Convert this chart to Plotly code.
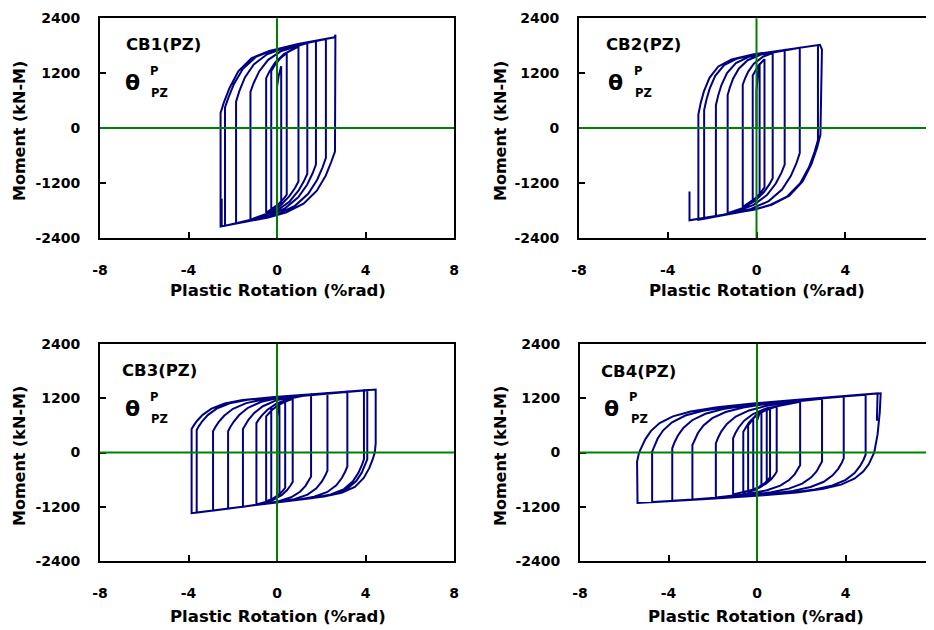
import plotly.graph_objects as go

# ---------------- data (plastic rotation %rad, moment kN-m) ----------------
cb1_rot = [0, 0, 0.08, 0.19,
           0.19, 0.04, -0.26,
           -0.26, -0.11, 0.14, 0.44,
           0.44, 0.29, 0.04, -0.49,
           -0.49, -0.34, -0.09, 0.31, 0.97,
           0.97, 0.82, 0.57, 0.17, -0.43, -1.20,
           -1.20, -1.05, -0.80, -0.40, 0.20, 1.37,
           1.37, 1.22, 0.97, 0.57, -0.03, -0.83, -1.85,
           -1.85, -1.70, -1.45, -1.05, -0.45, 0.35, 1.76,
           1.76, 1.61, 1.36, 0.96, 0.36, -0.44, -2.35,
           -2.35, -2.20, -1.95, -1.55, -0.95, -0.15, 2.21,
           2.21, 2.06, 1.81, 1.41, 0.81, 0.01, -0.79, -2.55,
           -2.55, -2.40, -2.15, -1.75, -1.15, -0.35, 0.95, 2.60, 2.64,
           2.62, 2.45, 2.20, 1.80, 1.20, 0.40, -0.40, -2.50, -2.50]
cb1_mom = [0, 900, 1150, 1350,
           -1680, -1737, -1829,
           1250, 1368, 1520, 1642,
           -1460, -1553, -1676, -1853,
           1090, 1239, 1428, 1618, 1783,
           -1170, -1306, -1486, -1687, -1870, -2004,
           790, 990, 1243, 1492, 1685, 1861,
           -1000, -1161, -1372, -1607, -1816, -1968, -2085,
           575, 811, 1106, 1393, 1612, 1756, 1908,
           -800, -991, -1241, -1516, -1758, -1927, -2138,
           450, 660, 960, 1290, 1558, 1708, 1949,
           -650, -861, -1137, -1439, -1703, -1885, -1991, -2154,
           330, 560, 870, 1240, 1531, 1687, 1836, 1984, 2040,
           -515, -744, -1044, -1372, -1655, -1848, -1957, -2150, -1550]

cb2_rot = [0, 0, 0.06, 0.14,
           0.14, -0.01, -0.17,
           -0.17, -0.07, 0.08, 0.36,
           0.36, 0.21, -0.04, -0.62,
           -0.62, -0.52, -0.37, -0.12, 0.28, 0.73,
           0.73, 0.58, 0.33, -0.07, -0.67, -1.30,
           -1.30, -1.20, -1.05, -0.80, -0.40, 0.20, 1.27,
           1.27, 1.12, 0.87, 0.47, -0.13, -0.93, -1.83,
           -1.83, -1.73, -1.58, -1.33, -0.93, -0.33, 1.95,
           1.95, 1.80, 1.55, 1.15, 0.55, -0.25, -1.05, -2.36,
           -2.36, -2.26, -2.11, -1.86, -1.46, -0.86, 0.14, 2.77,
           2.77, 2.62, 2.37, 1.97, 1.37, 0.57, -0.23, -2.62,
           -2.62, -2.52, -2.37, -2.12, -1.72, -1.12, -0.12, 2.86, 2.95, 2.92, 2.88,
           2.73, 2.48, 2.08, 1.48, 0.68, -0.12, -3.02, -3.02]
cb2_mom = [0, 800, 1200, 1400,
           -1500, -1566, -1626,
           1150, 1249, 1363, 1504,
           -1300, -1401, -1533, -1729,
           950, 1082, 1234, 1406, 1555, 1640,
           -1100, -1233, -1406, -1595, -1762, -1866,
           720, 889, 1083, 1298, 1483, 1605, 1709,
           -800, -981, -1215, -1467, -1682, -1832, -1933,
           500, 705, 940, 1201, 1421, 1561, 1757,
           -550, -768, -1048, -1348, -1600, -1769, -1866, -1989,
           393, 612, 862, 1141, 1375, 1522, 1630, 1814,
           -262, -521, -855, -1209, -1502, -1692, -1797, -2010,
           300, 534, 801, 1098, 1347, 1501, 1612, 1820, 1720, 500, -150,
           -429, -787, -1167, -1479, -1679, -1787, -2020, -1390]

cb3_rot = [0, 0, 0.05, 0.11,
           0.11, 0.01, -0.26,
           -0.26, -0.16, -0.01, 0.37,
           0.37, 0.27, 0.12, -0.13, -0.49,
           -0.49, -0.39, -0.24, 0.01, 0.41, 0.71,
           0.71, 0.61, 0.46, 0.21, -0.19, -0.93,
           -0.93, -0.83, -0.68, -0.43, -0.03, 0.57, 1.54,
           1.54, 1.44, 1.29, 1.04, 0.64, 0.04, -1.54,
           -1.54, -1.44, -1.29, -1.04, -0.64, -0.04, 0.76, 2.28,
           2.28, 2.18, 2.03, 1.78, 1.38, 0.78, -0.02, -2.21,
           -2.21, -2.11, -1.96, -1.71, -1.31, -0.71, 0.09, 3.18,
           3.18, 3.08, 2.93, 2.68, 2.28, 1.68, 0.88, -2.89,
           -2.89, -2.79, -2.64, -2.39, -1.99, -1.39, -0.59, 3.93,
           3.93, 3.83, 3.68, 3.43, 3.03, 2.43, 1.63, -3.63,
           -3.63, -3.53, -3.38, -3.13, -2.73, -2.13, -1.33, -0.13, 4.46,
           4.46, 4.42, 4.32, 4.17, 3.92, 3.52, 2.92, 2.12, -3.86,
           -3.86, -3.76, -3.61, -3.36, -2.96, -2.36, -1.56, -0.36, 4.08,
           4.08, 3.98, 3.83, 3.58, 3.18, 2.58, 1.78, -3.63]
cb3_mom = [0, 800, 1000, 1080,
           -950, -984, -1053,
           1000, 1034, 1077, 1158,
           -780, -842, -916, -1005, -1084,
           800, 858, 933, 1030, 1135, 1189,
           -650, -731, -829, -944, -1052, -1150,
           650, 727, 822, 947, 1081, 1193, 1289,
           -530, -624, -737, -868, -991, -1084, -1202,
           520, 609, 723, 869, 1024, 1153, 1240, 1315,
           -400, -510, -640, -792, -932, -1034, -1105, -1243,
           470, 562, 679, 829, 989, 1121, 1210, 1346,
           -310, -426, -564, -725, -873, -979, -1051, -1283,
           470, 558, 670, 813, 966, 1093, 1180, 1373,
           -150, -287, -450, -638, -809, -928, -1005, -1328,
           500, 584, 691, 827, 971, 1089, 1166, 1226, 1391,
           200, 0, -159, -347, -564, -760, -893, -975, -1342,
           520, 600, 703, 833, 971, 1084, 1159, 1218, 1378,
           -150, -285, -446, -632, -801, -919, -996, -1328]

cb4_rot = [0, 0, 0.10, 0.20,
           0.20, 0.10, -0.17,
           -0.17, -0.07, 0.08, 0.44,
           0.44, 0.34, 0.19, -0.06, -0.40,
           -0.40, -0.30, -0.15, 0.10, 0.59,
           0.59, 0.49, 0.34, 0.09, -0.62,
           -0.62, -0.52, -0.37, -0.12, 0.28, 0.89,
           0.89, 0.79, 0.64, 0.39, -0.01, -1.08,
           -1.08, -0.98, -0.83, -0.58, -0.18, 0.42, 1.95,
           1.95, 1.85, 1.70, 1.45, 1.05, 0.45, -0.35, -1.86,
           -1.86, -1.76, -1.61, -1.36, -0.96, -0.36, 0.44, 1.64, 2.94,
           2.94, 2.84, 2.69, 2.44, 2.04, 1.44, 0.64, -0.56, -2.92,
           -2.92, -2.82, -2.67, -2.42, -2.02, -1.42, -0.62, 0.58, 2.08, 3.92,
           3.92, 3.82, 3.67, 3.42, 3.02, 2.42, 1.62, 0.42, -1.08, -3.83,
           -3.83, -3.73, -3.58, -3.33, -2.93, -2.33, -1.53, -0.33, 1.17, 2.67, 4.91,
           4.91, 4.81, 4.66, 4.41, 4.01, 3.41, 2.61, 1.41, -0.09, -2.09, -4.74,
           -4.74, -4.64, -4.49, -4.24, -3.84, -3.24, -2.44, -1.24, 0.26, 2.26, 5.59,
           5.55, 5.45, 5.30, 5.20, 5.05, 4.80, 4.40, 3.80, 3.00, 1.80, 0.30, -1.70, -5.40,
           -5.42, -5.33, -5.20, -5.05, -4.80, -4.40, -3.80, -3.00, -1.80, -0.30, 1.70, 5.45, 5.42]
cb4_mom = [0, 700, 850, 920,
           -720, -759, -834,
           756, 811, 874, 975,
           -650, -697, -753, -820, -879,
           600, 674, 761, 863, 983,
           -550, -612, -683, -766, -892,
           460, 553, 660, 787, 911, 1020,
           -425, -502, -592, -697, -800, -931,
           314, 426, 554, 704, 851, 976, 1124,
           -280, -374, -483, -609, -733, -836, -912, -994,
           203, 326, 467, 633, 795, 931, 1032, 1121, 1188,
           -200, -301, -418, -555, -688, -799, -880, -952, -1039,
           166, 289, 431, 597, 759, 896, 996, 1086, 1163, 1237,
           -130, -237, -362, -506, -647, -764, -849, -924, -986, -1070,
           93, 222, 371, 544, 714, 856, 961, 1053, 1131, 1193, 1277,
           -50, -166, -298, -454, -604, -729, -818, -896, -958, -1022, -1097,
           18, 153, 309, 491, 668, 817, 924, 1019, 1100, 1181, 1309,
           900, 400, 0, -121, -261, -423, -580, -710, -803, -883, -947, -1011, -1115,
           -200, 0, 135, 291, 473, 651, 799, 906, 1002, 1081, 1162, 1310, 700]

panel_names = ["CB1(PZ)", "CB2(PZ)", "CB3(PZ)", "CB4(PZ)"]
x_ticks = [-8, -4, 0, 4, 8]
x_tick_text = ["-8", "-4", "0", "4", "8"]
y_ticks = [-2400, -1200, 0, 1200, 2400]
y_tick_text = ["-2400", "-1200", "0", "1200", "2400"]
x_title = "Plastic Rotation (%rad)"
y_title = "Moment (kN-M)"

# ---------------- layout geometry ----------------
# the page body adds an 8 px margin, so the figure is drawn 8 px smaller and all
# positions below (screen pixels) are shifted by that offset
OFF = 8
W, H = 934 - OFF, 630 - OFF
def px(v):
    return (v - OFF) / W
def py(v):
    return 1 - (v - OFF) / H

x_domains = [[px(100), px(454)], [px(579), 1.0], [px(100), px(454)], [px(580), 1.0]]
y_domains = [[py(237.7), py(18.3)], [py(237.7), py(18.3)], [py(561), py(344)], [py(561), py(344)]]

NAVY = "#000080"
GREEN = "#008000"
FONT = "DejaVu Sans"
tick_font = dict(family=FONT, size=14, color="black", weight="bold")

series = [(cb1_rot, cb1_mom), (cb2_rot, cb2_mom), (cb3_rot, cb3_mom), (cb4_rot, cb4_mom)]

fig = go.Figure()
layout_axes = {}
shapes = []
for i, (xs, ys) in enumerate(series):
    n = "" if i == 0 else str(i + 1)
    fig.add_trace(go.Scatter(x=xs, y=ys, mode="lines",
                             line=dict(color=NAVY, width=2),
                             xaxis="x" + n, yaxis="y" + n,
                             showlegend=False, hoverinfo="skip"))
    layout_axes["xaxis" + n] = dict(
        domain=x_domains[i], anchor="y" + n, range=[-8, 8], automargin=False,
        tickmode="array", tickvals=x_ticks, ticktext=x_tick_text,
        ticks="inside", ticklen=6, tickwidth=2, tickcolor="black",
        showline=True, linecolor="black", linewidth=2, mirror=True,
        showgrid=False, zeroline=False, tickfont=tick_font,
        ticklabelstandoff=18, fixedrange=True)
    layout_axes["yaxis" + n] = dict(
        domain=y_domains[i], anchor="x" + n, range=[-2400, 2400], automargin=False,
        tickmode="array", tickvals=y_ticks, ticktext=y_tick_text,
        ticks="inside", ticklen=6, tickwidth=2, tickcolor="black",
        showline=True, linecolor="black", linewidth=2, mirror=True,
        showgrid=False, zeroline=False, tickfont=tick_font,
        ticklabelstandoff=15, fixedrange=True)
    shapes.append(dict(type="line", xref="x" + n, yref="y" + n + " domain",
                       x0=0, x1=0, y0=0, y1=1, line=dict(color=GREEN, width=2), layer="above"))
    shapes.append(dict(type="line", xref="x" + n + " domain", yref="y" + n,
                       x0=0, x1=1, y0=0, y1=0, line=dict(color=GREEN, width=2), layer="above"))

# annotation positions (screen pixels)
name_pos = [(163, 45), (643, 45), (159, 370), (638, 371)]
theta_pos = [(132, 82), (615, 82), (132, 408), (611, 408)]
sup_pos = [(154, 71), (638, 71), (154, 397), (633, 397)]
sub_pos = [(159, 93), (643, 93), (159, 419), (639, 419)]
ytitle_pos = [(19, 131), (500, 131), (19, 456), (500, 456)]
xtitle_pos = [(278, 290), (757, 290), (278, 616), (756, 616)]

annotations = []
def ann(text, x, y, size, angle=0):
    annotations.append(dict(text=text, x=px(x), y=py(y), xref="paper", yref="paper",
                            xanchor="center", yanchor="middle", showarrow=False,
                            textangle=angle,
                            font=dict(family=FONT, size=size, color="black", weight="bold")))

for i in range(4):
    ann(panel_names[i], *name_pos[i], 16.5)
    ann("θ", *theta_pos[i], 22)
    ann("P", *sup_pos[i], 11.5)
    ann("PZ", *sub_pos[i], 11.5)
    ann(y_title, *ytitle_pos[i], 16, angle=-90)
    ann(x_title, *xtitle_pos[i], 16.5)

fig.update_layout(width=W, height=H, margin=dict(l=0, r=0, t=0, b=0, autoexpand=False),
                  paper_bgcolor="white", plot_bgcolor="white",
                  showlegend=False, shapes=shapes, annotations=annotations,
                  **layout_axes)

fig.write_html("out.html")
